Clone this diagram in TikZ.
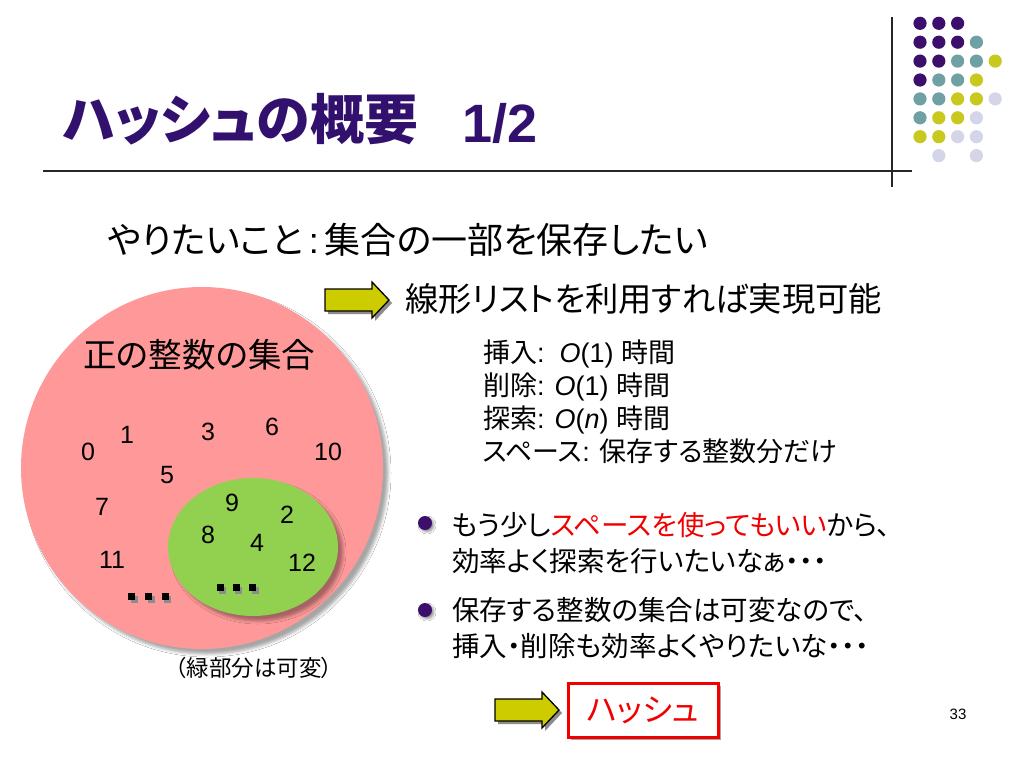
\documentclass[tikz,border=0pt]{standalone}
\usepackage{fontspec}
\setmainfont{Noto Sans CJK JP}[RawFeature=+palt]
\newfontfamily\lat{Liberation Sans}
\usepackage{tikz}
\usetikzlibrary{
  positioning, shapes.geometric, shadows, shadows.blur
}
\definecolor{hashTitle}{HTML}{32106E}
\definecolor{hashPurple}{HTML}{3B0F6B}
\definecolor{hashTeal}{HTML}{6FA0A3}
\definecolor{hashOlive}{HTML}{C9C81E}
\definecolor{hashLilac}{HTML}{D5D5EA}
\definecolor{setPink}{HTML}{FF9999}
\definecolor{subGreen}{HTML}{92D050}
\definecolor{arrowYellow}{HTML}{CCCC00}
\definecolor{hashRed}{HTML}{F00000}
\newcommand\fsz[1]{\fontsize{#1}{#1}\selectfont}

\begin{document}
\begin{tikzpicture}[
  x=1pt, y=-1pt,
  every node/.style={inner sep=0pt, outer sep=0pt},
  titletext/.style={anchor=base west, text=hashTitle, font=\fsz{54}\bfseries},
  bodytext/.style={anchor=base west, font=\fsz{#1}},
  num/.style={font=\lat\fsz{25}},
  setdisk/.style={
    fill=#1,
    blur shadow={shadow xshift=5pt, shadow yshift=-5pt,
      shadow blur radius=3pt, shadow opacity=35}
  },
  sqdot/.style={
    rectangle, fill=black, minimum size=7pt,
    drop shadow={shadow xshift=2.5pt, shadow yshift=-2.5pt,
      fill=black!45, opacity=1}
  },
  bulletdot/.style={
    circle, fill=hashPurple, minimum size=14pt,
    blur shadow={shadow xshift=2pt, shadow yshift=-2pt,
      shadow blur radius=2pt, shadow opacity=40}
  },
  hashbox/.style={
    rectangle, draw=hashRed, line width=3pt, fill=white,
    minimum width=150pt, minimum height=54pt,
    text=hashRed, font=\fsz{32},
    drop shadow={shadow xshift=3pt, shadow yshift=-3pt,
      fill=black!35, opacity=1}
  },
  arrowbody/.style={
    draw=black, line width=1.3pt, fill=arrowYellow, line join=miter,
    drop shadow={shadow xshift=3pt, shadow yshift=-3pt,
      fill=black!45, opacity=1}
  },
  pics/fatarrow/.style={code={
    \path[arrowbody] (0,-11) -- (47,-11) -- (47,-18) -- (64,0)
      -- (47,18) -- (47,11) -- (0,11) -- cycle;
  }},
]
\useasboundingbox[fill=white] (0,0) rectangle (1024,768);

% === HEADER ===
\node[titletext] (title) at (63,139) {ハッシュの概要};
\node[anchor=base west, text=hashTitle, font=\lat\fsz{54}\bfseries]
  (part) at (462,142) {1/2};
\draw[line width=1.2pt, black!85] (43,171) -- (912,171);
\draw[line width=1.2pt, black!85] (892,17) -- (892,187);

% corner dots
\foreach \k/\cells in {
  hashPurple/{0/0,1/0,2/0,0/1,1/1,2/1,0/2,1/2,0/3},
  hashTeal/{3/1,2/2,3/2,1/3,2/3,0/4,1/4,0/5},
  hashOlive/{4/2,3/3,2/4,3/4,1/5,2/5,0/6,1/6},
  hashLilac/{4/4,3/5,2/6,3/6,1/7,3/7}} {
  \foreach \c/\r in \cells
    \fill[\k] (920+18.8*\c, 23.3+18.9*\r) circle (6.6);
}

% === GOAL ===
\node[bodytext=36] (goal) at (108,253) {やりたいこと{\lat\,:\,}集合の一部を保存したい};
\pic (arrA) at (325,300) {fatarrow};
\node[bodytext=33.3] (linked) at (405,311) {線形リストを利用すれば実現可能};

\node[bodytext=27] (opins) at (483,362) {挿入{\lat:\ \ \textit{O}(1) }時間};
\node[bodytext=27] (opdel) at (483,395) {削除{\lat: \textit{O}(1) }時間};
\node[bodytext=27] (opsrch) at (483,428) {探索{\lat: \textit{O}(\textit{n}) }時間};
\node[bodytext=27] (opspace) at (483,461) {スペース{\lat: }保存する整数分だけ};

% === SETS ===
\node[setdisk=setPink, circle, minimum size=362pt] (allset) at (202,468) {};
\node[setdisk=subGreen, ellipse, minimum width=170pt, minimum height=138pt]
  (subset) at (253,547) {};
\node[bodytext=33.5] (setname) at (83,367) {正の整数の集合};

\foreach \n/\x/\y in {0/88/452, 1/127/435, 3/208/432, 6/272/427,
  10/328/452, 5/167/475, 7/102/507, 9/232/503, 2/287/515,
  8/208/535, 4/257/543, 11/112/560, 12/302/563}
  \node[num] (n\n) at (\x,\y) {\n};

\foreach \x [count=\i] in {131.5,148.5,165}
  \node[sqdot] (restA\i) at (\x,596.5) {};
\foreach \x [count=\i] in {220,236,252.5}
  \node[sqdot] (restB\i) at (\x,587.5) {};

\node[font=\fsz{22.5}] (note) at (254,668) {（緑部分は可変）};

% === WISHES ===
\node[bulletdot] (bulA) at (425,523) {};
\node[bulletdot] (bulB) at (425,610) {};
\node[bodytext=27.5] (wishA1) at (452,535)
  {もう少し\textcolor{hashRed}{スペースを使ってもいい}から、};
\node[bodytext=27.5] (wishA2) at (452,571) {効率よく探索を行いたいなぁ・・・};
\node[bodytext=27.5] (wishB1) at (452,620) {保存する整数の集合は可変なので、};
\node[bodytext=27.5] (wishB2) at (452,656) {挿入・削除も効率よくやりたいな・・・};

% === ANSWER ===
\pic (arrB) at (495,710) {fatarrow};
\node[hashbox] (hash) at (643,710) {ハッシュ};

\node[font=\lat\fsz{15}] (page) at (958,714) {33};
\end{tikzpicture}
\end{document}
